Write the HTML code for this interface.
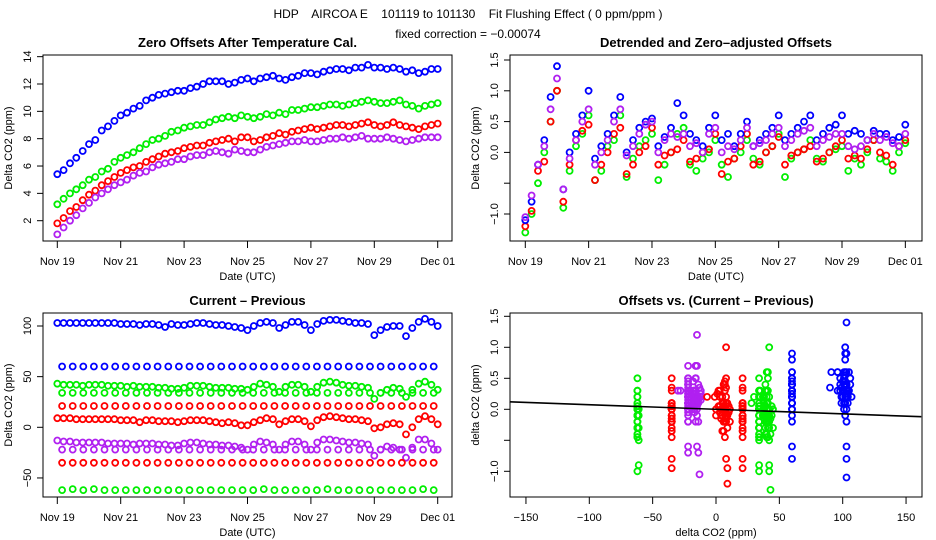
<!DOCTYPE html>
<html><head><meta charset="utf-8"><title>HDP AIRCOA E flushing effect</title>
<style>
html,body{margin:0;padding:0;background:#fff;}
svg{display:block;font-family:"Liberation Sans",sans-serif;}
.t{font-size:11px;fill:#000;}
.h{font-size:13px;font-weight:bold;fill:#000;}
</style></head>
<body>
<svg id="chart" width="936" height="540" viewBox="0 0 936 540" xmlns="http://www.w3.org/2000/svg">
<rect width="936" height="540" fill="#fff"/>
<text x="468" y="18" text-anchor="middle" style="font-size:12px;white-space:pre">HDP    AIRCOA E    101119 to 101130    Fit Flushing Effect ( 0 ppm/ppm )</text>
<text x="468" y="38" text-anchor="middle" style="font-size:12px">fixed correction = −0.00074</text>
</svg>
<script>
// ---------- data ----------
const dateTicks = ["Nov 19","Nov 21","Nov 23","Nov 25","Nov 27","Nov 29","Dec 01"];
const dateTickDays = [0,2,4,6,8,10,12];
const step = 0.2; // days between samples

// Panel 1: zero offsets
const zeroBlue = [5.4,5.7,6.2,6.6,7.1,7.6,7.9,8.6,8.9,9.3,9.7,9.9,10.2,10.4,10.8,11.0,11.2,11.3,11.4,11.5,11.5,11.7,11.8,12.0,12.2,12.2,12.2,12.0,12.1,12.3,12.4,12.2,12.4,12.5,12.6,12.4,12.3,12.5,12.6,12.8,12.8,12.7,12.9,13.0,13.1,13.1,13.0,13.2,13.2,13.4,13.2,13.2,13.1,13.2,13.1,12.9,13.0,12.8,12.9,13.1,13.1];
const zeroGreen = [3.2,3.6,4.0,4.3,4.6,5.0,5.2,5.6,5.8,6.3,6.6,6.8,7.0,7.3,7.6,7.9,8.0,8.2,8.5,8.6,8.8,8.9,9.0,9.0,9.2,9.4,9.5,9.6,9.5,9.7,9.6,9.5,9.6,9.8,9.7,9.9,9.8,10.1,10.1,10.2,10.3,10.3,10.4,10.5,10.5,10.4,10.5,10.6,10.7,10.8,10.7,10.6,10.6,10.7,10.8,10.5,10.4,10.2,10.4,10.5,10.6];
const zeroRed = [1.8,2.2,2.7,3.0,3.5,3.9,4.2,4.6,4.9,5.2,5.5,5.7,5.9,6.0,6.3,6.5,6.7,6.9,7.0,7.1,7.3,7.4,7.5,7.5,7.7,7.8,7.9,8.0,7.8,8.1,8.1,7.8,7.9,8.1,8.2,8.4,8.3,8.5,8.6,8.7,8.8,8.7,8.8,8.9,9.0,9.0,8.9,9.0,9.1,9.2,9.0,8.9,9.0,9.2,9.0,8.9,8.8,8.7,8.9,9.0,9.1];
const zeroPurple = [1.0,1.5,2.0,2.4,2.9,3.3,3.7,4.0,4.3,4.6,4.8,5.0,5.3,5.5,5.6,5.9,6.1,6.2,6.3,6.5,6.5,6.7,6.8,6.8,7.0,7.1,7.0,6.9,7.2,7.1,7.0,7.0,7.2,7.4,7.5,7.6,7.7,7.8,7.8,7.9,7.8,7.8,7.9,8.0,8.0,8.1,8.0,8.1,8.2,8.0,8.0,8.0,8.1,8.0,7.9,7.8,7.9,8.0,8.1,8.1,8.1];
const zeroTicks = [2,4,6,8,10,12,14];

// Panel 2: detrended offsets
const detBlue = [-1.1,-0.8,-0.2,0.2,0.9,1.4,-0.6,0.0,0.3,0.6,1.0,-0.1,0.1,0.3,0.6,0.9,0.0,0.2,0.4,0.5,0.55,0.1,0.25,0.4,0.8,0.6,0.3,0.2,0.1,0.4,0.6,0.2,0.3,0.1,0.3,0.5,0.1,0.2,0.3,0.4,0.6,0.2,0.3,0.4,0.5,0.6,0.2,0.3,0.4,0.45,0.6,0.3,0.35,0.3,0.2,0.35,0.3,0.3,0.2,0.25,0.45];
const detPurple = [-1.05,-0.7,-0.2,0.1,0.7,1.2,-0.6,-0.1,0.2,0.5,0.7,-0.2,0.0,0.2,0.5,0.7,-0.05,0.1,0.3,0.45,0.5,0.0,0.2,0.3,0.25,0.3,0.1,0.15,0.0,0.3,0.4,0.0,0.1,0.05,0.2,0.4,0.1,0.15,0.2,0.3,0.4,0.1,0.2,0.3,0.35,0.4,0.1,0.2,0.25,0.3,0.3,0.1,0.05,0.1,0.2,0.3,0.2,0.25,0.15,0.1,0.3];
const detGreen = [-1.3,-1.0,-0.5,0.0,0.5,1.0,-0.9,-0.3,0.1,0.3,0.6,-0.45,-0.3,0.1,0.2,0.6,-0.4,-0.1,0.1,0.2,0.3,-0.45,-0.2,0.0,0.3,0.4,-0.2,-0.3,-0.1,0.0,0.2,-0.2,-0.4,-0.1,0.0,0.2,-0.1,-0.2,0.0,0.1,0.3,-0.4,-0.1,0.0,0.05,0.2,-0.1,-0.15,0.0,0.05,0.1,-0.3,-0.1,-0.2,0.0,0.2,-0.1,-0.15,-0.3,0.0,0.15];
const detRed = [-1.2,-0.95,-0.3,-0.15,0.5,1.0,-0.8,-0.2,0.2,0.35,0.45,-0.45,-0.2,0.0,0.3,0.4,-0.35,-0.2,0.0,0.1,0.4,-0.2,-0.05,0.0,0.05,0.2,-0.15,-0.1,0.0,0.05,0.3,-0.35,-0.15,-0.1,0.1,0.3,-0.2,-0.15,0.0,0.1,0.25,-0.2,-0.05,0.0,0.05,0.1,-0.15,-0.1,0.0,0.1,0.2,-0.1,-0.05,-0.1,0.05,0.2,0.0,-0.05,-0.2,0.1,0.2];
const detTicks = [-1.0,-0.5,0.0,0.5,1.0,1.5];
const detTickLabels = ["−1.0","","0.0","0.5","1.0","1.5"];

// Panel 3: current - previous
const cpBlue = [103,103,103,103,103,103,103,103,103,103,102,102,102,101,102,102,101,99,102,101,101,102,103,103,102,101,101,100,99,98,96,100,103,104,103,98,101,104,104,101,96,102,105,106,106,105,104,103,103,102,91,96,99,100,100,90,98,104,107,104,100];
const cpGreen = [43,42,42,42,41,42,42,42,41,41,41,40,41,40,40,40,39,39,38,38,39,41,41,41,40,39,39,39,38,38,37,40,43,42,40,35,40,42,42,40,35,40,44,45,44,42,41,41,40,39,28,34,37,39,38,30,37,43,45,42,37];
const cpRed = [9,9,9,8,8,8,8,8,8,8,7,7,7,5,7,7,6,6,6,5,6,7,7,7,6,5,4,5,4,2,2,5,7,9,8,3,6,8,8,6,1,7,10,11,10,9,8,8,7,6,-1,0,3,4,3,-7,0,8,11,8,3];
const cpPurple = [-13,-14,-14,-15,-15,-15,-15,-15,-16,-16,-16,-16,-17,-16,-16,-16,-17,-17,-18,-18,-16,-15,-15,-16,-17,-17,-18,-18,-19,-20,-22,-17,-14,-15,-17,-22,-17,-14,-14,-17,-22,-15,-12,-12,-13,-14,-15,-15,-16,-17,-28,-22,-19,-20,-22,-30,-20,-12,-12,-16,-22];
const sparseStart = 0.15, sparseStep = 0.335;
const cpBlue60 = [60,60,60,60,60,60,60,60,60,60,60,60,60,60,60,60,60,60,60,60,60,60,60,60,60,60,60,60,60,60,60,60,60,60,60,60];
const cpGreen34 = [34,34,34,34,34,34,34,34,34,34,34,34,34,34,34,34,34,34,34,34,34,34,34,34,34,34,34,34,34,34,34,34,34,34,34,34];
const cpRed21 = [21,21,21,21,21,21,21,21,21,21,21,21,21,21,21,21,21,21,21,21,21,21,21,21,21,21,21,21,21,21,21,21,21,21,21,21];
const cpPurpleM22 = [-22,-22,-22,-22,-22,-22,-22,-22,-22,-22,-22,-22,-22,-22,-22,-22,-22,-22,-22,-22,-22,-22,-22,-22,-22,-22,-22,-22,-22,-22,-22,-22,-22,-22,-22,-22];
const cpRedM35 = [-35,-35,-35,-35,-35,-35,-35,-35,-35,-35,-35,-35,-35,-35,-35,-35,-35,-35,-35,-35,-35,-35,-35,-35,-35,-35,-35,-35,-35,-35,-35,-35,-35,-35,-35,-35];
const cpGreenM62 = [-62,-61,-62,-61,-62,-62,-62,-62,-62,-62,-62,-62,-62,-62,-62,-62,-62,-62,-62,-61,-62,-62,-62,-62,-62,-61,-62,-62,-62,-62,-62,-62,-62,-62,-61,-62];
const cpTicks = [-50,0,50,100];
const cpTickLabels = ["−50","0","50","100"];

// Panel 4: fit
const fitSlope = -0.00074, fitIntercept = 0.0;
const fitXTicks = [-150,-100,-50,0,50,100,150];
const fitXTickLabels = ["−150","−100","−50","0","50","100","150"];

// ---------- drawing ----------
const NS = "http://www.w3.org/2000/svg";
const svg = document.getElementById("chart");
const COL = {blue:"#0000ff", green:"#00ee00", red:"#ff0000", purple:"#b020f0"};

function el(tag, attrs, parent){
  const e = document.createElementNS(NS, tag);
  for (const k in attrs) e.setAttribute(k, attrs[k]);
  (parent||svg).appendChild(e);
  return e;
}
function mkGroup(name){
  const g = document.createElementNS(NS,"g");
  
  
  svg.appendChild(g);
  return g;
}

const P1 = {x0:43,x1:452,y0:55,y1:241, xs:t=>57.3+t*31.7, ys:v=>220.7-(v-2)*13.67};
const P2 = {x0:510,x1:922,y0:55,y1:241, xs:t=>525.3+t*31.67, ys:v=>152.4-v*61.6};
const P3 = {x0:43,x1:452,y0:313,y1:497, xs:t=>57.3+t*31.7, ys:v=>427.3-v*1.013};
const P4 = {x0:510,x1:922,y0:313,y1:497, xs:v=>716+v*1.267, ys:v=>409.3-v*62};

function frame(P, name, title, ylabel, xlabel){
  const g = mkGroup(name);
  const b = el("rect",{x:P.x0,y:P.y0,width:P.x1-P.x0,height:P.y1-P.y0,fill:"none",stroke:"#000","stroke-width":1},g);
  
  
  const tt = el("text",{x:(P.x0+P.x1)/2,y:P.y0-8,"text-anchor":"middle",class:"h"},g);
  tt.textContent = title;
  
  
  const yl = el("text",{transform:`translate(${P.x0-31},${(P.y0+P.y1)/2}) rotate(-90)`,"text-anchor":"middle",class:"t"},g);
  yl.textContent = ylabel;
  
  
  const xl = el("text",{x:(P.x0+P.x1)/2,y:P.y1+39,"text-anchor":"middle",class:"t"},g);
  xl.textContent = xlabel;
  
  
  return g;
}
function yAxis(P, g, vals, labels, name){
  const ax = mkGroup(name);
  el("line",{x1:P.x0,x2:P.x0,y1:P.ys(vals[0]),y2:P.ys(vals[vals.length-1]),stroke:"#000"},ax);
  vals.forEach((v,i)=>{
    const y = P.ys(v);
    el("line",{x1:P.x0-6,x2:P.x0,y1:y,y2:y,stroke:"#000"},ax);
    if(labels[i]!==""){
      const t = el("text",{transform:`translate(${P.x0-12},${y}) rotate(-90)`,"text-anchor":"middle",class:"t"},ax);
      t.textContent = labels[i];
      
      
    }
  });
}
function xAxis(P, vals, labels, name){
  const ax = mkGroup(name);
  el("line",{x1:P.xs(vals[0]),x2:P.xs(vals[vals.length-1]),y1:P.y1,y2:P.y1,stroke:"#000"},ax);
  vals.forEach((v,i)=>{
    const x = P.xs(v);
    el("line",{x1:x,x2:x,y1:P.y1,y2:P.y1+7,stroke:"#000"},ax);
    const t = el("text",{x:x,y:P.y1+24,"text-anchor":"middle",class:"t"},ax);
    t.textContent = labels[i];
    
    
  });
}
function pts(P, xsv, ysv, color, name){
  const g = mkGroup(name);
  for(let i=0;i<ysv.length;i++){
    const c = el("circle",{cx:P.xs(xsv[i]).toFixed(1),cy:P.ys(ysv[i]).toFixed(1),r:3,fill:"none",stroke:color,"stroke-width":1.8},g);
    
    
  }
}
const denseT = arr => arr.map((_,i)=>i*step);
const sparseT = arr => arr.map((_,i)=>sparseStart+i*sparseStep);

// Panel 1
const g1 = frame(P1,"zero-offsets-panel","Zero Offsets After Temperature Cal.","Delta CO2 (ppm)","Date (UTC)");
yAxis(P1,g1,zeroTicks,zeroTicks.map(String),"zero-offsets-y-axis");
xAxis(P1,dateTickDays,dateTicks,"zero-offsets-x-axis");
pts(P1,denseT(zeroBlue),zeroBlue,COL.blue,"zero-blue");
pts(P1,denseT(zeroGreen),zeroGreen,COL.green,"zero-green");
pts(P1,denseT(zeroRed),zeroRed,COL.red,"zero-red");
pts(P1,denseT(zeroPurple),zeroPurple,COL.purple,"zero-purple");

// Panel 2
const g2 = frame(P2,"detrended-panel","Detrended and Zero\u2013adjusted Offsets","Delta CO2 (ppm)","Date (UTC)");
yAxis(P2,g2,detTicks,detTickLabels,"detrended-y-axis");
xAxis(P2,dateTickDays,dateTicks,"detrended-x-axis");
pts(P2,denseT(detGreen),detGreen,COL.green,"det-green");
pts(P2,denseT(detRed),detRed,COL.red,"det-red");
pts(P2,denseT(detBlue),detBlue,COL.blue,"det-blue");
pts(P2,denseT(detPurple),detPurple,COL.purple,"det-purple");

// Panel 3
const g3 = frame(P3,"current-previous-panel","Current \u2013 Previous","Delta CO2 (ppm)","Date (UTC)");
yAxis(P3,g3,cpTicks,cpTickLabels,"current-previous-y-axis");
xAxis(P3,dateTickDays,dateTicks,"current-previous-x-axis");
pts(P3,denseT(cpBlue),cpBlue,COL.blue,"cp-blue");
pts(P3,sparseT(cpBlue60),cpBlue60,COL.blue,"cp-blue-60");
pts(P3,denseT(cpGreen),cpGreen,COL.green,"cp-green");
pts(P3,sparseT(cpGreen34),cpGreen34,COL.green,"cp-green-34");
pts(P3,sparseT(cpRed21),cpRed21,COL.red,"cp-red-21");
pts(P3,denseT(cpRed),cpRed,COL.red,"cp-red");
pts(P3,denseT(cpPurple),cpPurple,COL.purple,"cp-purple");
pts(P3,sparseT(cpPurpleM22),cpPurpleM22,COL.purple,"cp-purple-m22");
pts(P3,sparseT(cpRedM35),cpRedM35,COL.red,"cp-red-m35");
pts(P3,sparseT(cpGreenM62),cpGreenM62,COL.green,"cp-green-m62");

// Panel 4: offsets vs current-previous
const g4 = frame(P4,"offsets-vs-cp-panel","Offsets vs. (Current \u2013 Previous)","delta CO2 (ppm)","delta CO2 (ppm)");
yAxis(P4,g4,detTicks,detTickLabels,"offsets-vs-cp-y-axis");
xAxis(P4,fitXTicks,fitXTickLabels,"offsets-vs-cp-x-axis");
function sampleAt(det, tArr){ return tArr.map(t=>det[Math.min(det.length-1,Math.round(t/step))]); }
pts(P4,cpGreenM62,sampleAt(detGreen,sparseT(cpGreenM62)),COL.green,"scatter-green-m62");
pts(P4,cpRedM35,sampleAt(detRed,sparseT(cpRedM35)),COL.red,"scatter-red-m35");
pts(P4,cpPurple,detPurple,COL.purple,"scatter-purple");
pts(P4,cpPurpleM22,sampleAt(detPurple,sparseT(cpPurpleM22)),COL.purple,"scatter-purple-m22");
pts(P4,cpRed,detRed,COL.red,"scatter-red");
pts(P4,cpRed21,sampleAt(detRed,sparseT(cpRed21)),COL.red,"scatter-red-21");
pts(P4,cpGreen34,sampleAt(detGreen,sparseT(cpGreen34)),COL.green,"scatter-green-34");
pts(P4,cpGreen,detGreen,COL.green,"scatter-green");
pts(P4,cpBlue60,sampleAt(detBlue,sparseT(cpBlue60)),COL.blue,"scatter-blue-60");
pts(P4,cpBlue,detBlue,COL.blue,"scatter-blue");
const fx0=-163, fx1=162;
const fit = el("line",{x1:P4.xs(fx0),x2:P4.xs(fx1),y1:P4.ys(fitIntercept+fitSlope*fx0),y2:P4.ys(fitIntercept+fitSlope*fx1),stroke:"#000","stroke-width":1.6});


</script>
</body></html>
